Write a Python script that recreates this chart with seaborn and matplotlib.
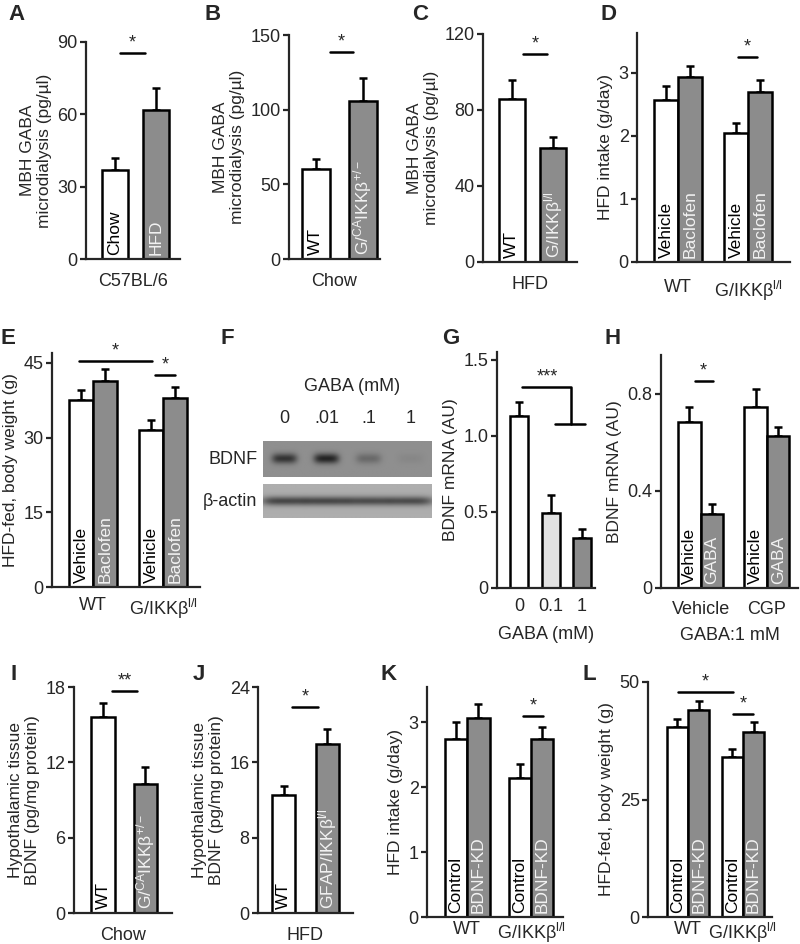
import numpy as np
import pandas as pd
import matplotlib
matplotlib.use("Agg")
import matplotlib.pyplot as plt
import seaborn as sns

# ---- data (means / SEM) ----
a_names = ["Chow", "HFD"]
a_mean = [37, 62]
a_sem = [5, 9]

b_names = ["WT", "G/$^{\\mathregular{CA}}$IKKβ$^{\\mathregular{+/-}}$"]
b_mean = [60, 106]
b_sem = [7, 15]

c_names = ["WT", "G/IKKβ$^{\\mathregular{l/l}}$"]
c_mean = [86, 60]
c_sem = [10, 6]

geno = ["WT", "G/IKKβ$^{\\mathregular{l/l}}$"]

d_treat = ["Vehicle", "Baclofen"]
d_mean = {"Vehicle": [2.57, 2.05], "Baclofen": [2.93, 2.70]}
d_sem = {"Vehicle": [0.22, 0.15], "Baclofen": [0.18, 0.18]}

e_treat = ["Vehicle", "Baclofen"]
e_mean = {"Vehicle": [37.6, 31.5], "Baclofen": [41.4, 38.0]}
e_sem = {"Vehicle": [2.0, 2.0], "Baclofen": [2.4, 2.2]}

f_lanes = ["0", ".01", ".1", "1"]
f_bdnf = [0.85, 1.0, 0.35, 0.07]
f_actin = [1.0, 1.0, 0.95, 0.95]

g_dose = ["0", "0.1", "1"]
g_mean = [1.13, 0.49, 0.33]
g_sem = [0.09, 0.12, 0.06]

h_groups = ["Vehicle", "CGP"]
h_treat = ["Vehicle", "GABA"]
h_mean = {"Vehicle": [0.685, 0.746], "GABA": [0.305, 0.627]}
h_sem = {"Vehicle": [0.06, 0.075], "GABA": [0.04, 0.038]}

i_names = ["WT", "G/$^{\\mathregular{CA}}$IKKβ$^{\\mathregular{+/-}}$"]
i_mean = [15.6, 10.3]
i_sem = [1.1, 1.3]

j_names = ["WT", "GFAP/IKKβ$^{\\mathregular{l/l}}$"]
j_mean = [12.5, 17.9]
j_sem = [1.0, 1.6]

k_treat = ["Control", "BDNF-KD"]
k_mean = {"Control": [2.74, 2.14], "BDNF-KD": [3.06, 2.74]}
k_sem = {"Control": [0.26, 0.21], "BDNF-KD": [0.22, 0.18]}

l_treat = ["Control", "BDNF-KD"]
l_mean = {"Control": [40.4, 34.0], "BDNF-KD": [44.0, 39.4]}
l_sem = {"Control": [1.7, 1.7], "BDNF-KD": [2.0, 2.1]}

# ---- style ----
sns.set_style("ticks")
plt.rcParams["font.family"] = ["Liberation Sans", "DejaVu Sans"]
plt.rcParams["mathtext.default"] = "regular"

WHITE, GRAY, LIGHT = "white", "#8c8c8c", "#e2e2e2"
FS_TICK = 13   # horizontal text
FS_LAB = 12.5  # rotated axis labels
FS_BAR = 12.5  # text inside bars
LW = 1.8
W, H = 800, 944

fig = plt.figure(figsize=(8, 9.44), dpi=100)


def box(x0, y0, x1, y1):
    return [x0 / W, 1 - y1 / H, (x1 - x0) / W, (y1 - y0) / H]


def finish(ax, xlim, ylim, yticks, yticklabels, ylabel, xlabel="", xpad=4, labelpad=10):
    ax.set_xlim(*xlim)
    ax.set_ylim(*ylim)
    ax.set_yticks(yticks, yticklabels)
    ax.set_ylabel(ylabel, fontsize=FS_LAB, labelpad=4, linespacing=1.15)
    ax.set_xlabel(xlabel, fontsize=FS_TICK, labelpad=labelpad)
    sns.despine(ax=ax)
    for s in ("left", "bottom"):
        ax.spines[s].set_linewidth(1.6)
    ax.tick_params(axis="y", length=4, width=1.6, labelsize=FS_TICK, pad=2)
    ax.tick_params(axis="x", length=0, labelsize=FS_TICK, pad=xpad)


def errbars(ax, xs, means, sems):
    ax.errorbar(xs, means, yerr=[np.zeros(len(sems)), sems], fmt="none",
                ecolor="black", elinewidth=LW, capsize=2.8, capthick=LW, zorder=1)


def in_bar(ax, x, text, color):
    ax.annotate(text, xy=(x, 0), xytext=(0, 3), textcoords="offset points",
                rotation=90, ha="center", va="bottom", fontsize=FS_BAR, color=color)


def sig(ax, x1, x2, y, stars="*"):
    ax.plot([x1, x2], [y, y], color="black", lw=LW, clip_on=False)
    ax.annotate(stars, xy=((x1 + x2) / 2, y), xytext=(0, 1), textcoords="offset points",
                ha="center", va="bottom", fontsize=FS_TICK)


def single_panel(rect, names, means, sems, colors, width, xlim, ylim, yticks, ylabel,
                 xlabel, labels=True, yticklabels=None, xpad=4, labelpad=10):
    ax = fig.add_axes(box(*rect))
    df = pd.DataFrame({"group": range(len(means)), "value": means})
    sns.barplot(data=df, x="group", y="value", color="white", saturation=1, width=width,
                edgecolor="black", linewidth=LW, errorbar=None, ax=ax, zorder=2)
    xs = []
    for p, c in zip(ax.patches, colors):
        p.set_facecolor(c)
        xs.append(p.get_x() + p.get_width() / 2)
    errbars(ax, xs, means, sems)
    if labels:
        for x, n, c in zip(xs, names, colors):
            in_bar(ax, x, n, "black" if c == WHITE else "#f2f2f2")
        ax.set_xticks([])
    else:
        ax.set_xticks(range(len(names)), names)
    finish(ax, xlim, ylim, yticks, yticklabels if yticklabels else [str(t) for t in yticks],
           ylabel, xlabel, xpad, labelpad)
    return ax


def grouped_panel(rect, groups, treats, means, sems, width, xlim, ylim, yticks, ylabel,
                  xlabel="", yticklabels=None, xpad=7, labelpad=9):
    ax = fig.add_axes(box(*rect))
    rows = [(gi, t, means[t][gi]) for t in treats for gi in range(len(groups))]
    df = pd.DataFrame(rows, columns=["group", "treat", "value"])
    sns.barplot(data=df, x="group", y="value", hue="treat", hue_order=treats,
                palette=[WHITE, GRAY], saturation=1, width=width, edgecolor="black",
                linewidth=LW, errorbar=None, legend=False, ax=ax, zorder=2)
    for cont, t, tc in zip(ax.containers, treats, ["black", "#f2f2f2"]):
        xs = [p.get_x() + p.get_width() / 2 for p in cont]
        errbars(ax, xs, means[t], sems[t])
        for x in xs:
            in_bar(ax, x, t, tc)
    ax.set_xticks(range(len(groups)), groups)
    finish(ax, xlim, ylim, yticks, yticklabels if yticklabels else [str(t) for t in yticks],
           ylabel, xlabel, xpad, labelpad)
    return ax


gaba_lab = "MBH GABA\nmicrodialysis (pg/µl)"
bdnf_lab = "Hypothalamic tissue\nBDNF (pg/mg protein)"

# A
ax = single_panel((86, 42, 180, 259), a_names, a_mean, a_sem, [WHITE, GRAY], 0.64,
                  (-0.7, 1.58), (0, 90), [0, 30, 60, 90], gaba_lab, "C57BL/6")
sig(ax, 0.12, 0.73, 85.4)
# B
ax = single_panel((289, 35, 380, 259), b_names, b_mean, b_sem, [WHITE, GRAY], 0.6,
                  (-0.57, 1.36), (0, 150), [0, 50, 100, 150], gaba_lab, "Chow")
sig(ax, 0.3, 0.79, 138.6)
# C
ax = single_panel((483, 34, 577, 262), c_names, c_mean, c_sem, [WHITE, GRAY], 0.63,
                  (-0.7, 1.58), (0, 120), [0, 40, 80, 120], gaba_lab, "HFD")
sig(ax, 0.27, 0.85, 109.5)
# D
ax = grouped_panel((637, 33, 790, 262), geno, d_treat, d_mean, d_sem, 0.69,
                   (-0.59, 1.6), (0, 3.63), [0, 1, 2, 3], "HFD intake (g/day)", xpad=12)
sig(ax, 0.86, 1.13, 3.25)
# E
ax = grouped_panel((52, 353, 200, 587), geno, e_treat, e_mean, e_sem, 0.69,
                   (-0.59, 1.53), (0, 47), [0, 15, 30, 45], "HFD-fed, body weight (g)")
sig(ax, -0.2, 0.84, 45.4)
sig(ax, 0.89, 1.17, 42.6)

# F (western blot)
ax = fig.add_axes(box(263, 441, 432, 518))


def strip(levels, bg, depth, width, ncol=170, nrow=36):
    xs = np.linspace(-0.5, 3.5, ncol)
    ys = np.linspace(-1, 1, nrow)
    img = np.full((nrow, ncol), bg)
    for i, lv in enumerate(levels):
        prof = np.exp(-((xs - i) / width) ** 4)[None, :] * np.exp(-(ys / 0.28) ** 2)[:, None]
        img = img - depth * lv * prof
    return img


ax.imshow(strip(f_bdnf, 0.56, 0.42, 0.3), cmap="gray", vmin=0, vmax=1, aspect="auto",
          extent=[-0.5, 3.5, 0.53, 1.0], interpolation="bilinear")
ax.imshow(strip(f_actin, 0.68, 0.4, 0.55), cmap="gray", vmin=0, vmax=1, aspect="auto",
          extent=[-0.5, 3.5, 0.0, 0.43], interpolation="bilinear")
ax.set_xlim(-0.5, 3.5)
ax.set_ylim(0, 1)
ax.axis("off")
for i, lane in enumerate(f_lanes):
    ax.annotate(lane, xy=(i, 1), xytext=(0, 16), textcoords="offset points",
                ha="center", va="center", fontsize=FS_TICK)
ax.annotate("GABA (mM)", xy=(1.6, 1), xytext=(0, 39), textcoords="offset points",
            ha="center", va="center", fontsize=FS_TICK)
ax.annotate("BDNF", xy=(-0.5, 0.765), xytext=(-4, 0), textcoords="offset points",
            ha="right", va="center", fontsize=FS_TICK)
ax.annotate("β-actin", xy=(-0.5, 0.215), xytext=(-4, 0), textcoords="offset points",
            ha="right", va="center", fontsize=FS_TICK)

# G
ax = single_panel((497, 352, 595, 588), g_dose, g_mean, g_sem, [WHITE, LIGHT, GRAY], 0.57,
                  (-0.7, 2.41), (0, 1.55), [0, 0.5, 1.0, 1.5], "BDNF mRNA (AU)", "GABA (mM)",
                  labels=False, yticklabels=["0", "0.5", "1.0", "1.5"], xpad=7, labelpad=8)
ax.plot([0.1, 1.65, 1.65], [1.32, 1.32, 1.08], color="black", lw=LW)
ax.plot([1.14, 2.1], [1.08, 1.08], color="black", lw=LW)
ax.annotate("***", xy=(0.9, 1.32), xytext=(0, 1), textcoords="offset points",
            ha="center", va="bottom", fontsize=FS_TICK)
# H
ax = grouped_panel((661, 355, 798, 588), h_groups, h_treat, h_mean, h_sem, 0.68,
                   (-0.6, 1.47), (0, 0.96), [0, 0.4, 0.8], "BDNF mRNA (AU)", "GABA:1 mM",
                   yticklabels=["0", "0.4", "0.8"], xpad=9, labelpad=7)
sig(ax, -0.09, 0.18, 0.854)

# I
ax = single_panel((74, 687, 172, 913), i_names, i_mean, i_sem, [WHITE, GRAY], 0.55,
                  (-0.69, 1.64), (0, 18), [0, 6, 12, 18], bdnf_lab, "Chow")
sig(ax, 0.21, 0.81, 17.7, "**")
# J
ax = single_panel((258, 687, 353, 913), j_names, j_mean, j_sem, [WHITE, GRAY], 0.53,
                  (-0.6, 1.6), (0, 24), [0, 8, 16, 24], bdnf_lab, "HFD")
sig(ax, 0.19, 0.79, 21.9)
# K
ax = grouped_panel((427, 687, 563, 917), geno, k_treat, k_mean, k_sem, 0.7,
                   (-0.63, 1.5), (0, 3.54), [0, 1, 2, 3], "HFD intake (g/day)", xpad=3)
sig(ax, 0.875, 1.19, 3.09)
# L
ax = grouped_panel((648, 682, 772, 917), geno, l_treat, l_mean, l_sem, 0.78,
                   (-0.73, 1.53), (0, 50), [0, 25, 50], "HFD-fed, body weight (g)", xpad=3)
sig(ax, -0.18, 0.82, 47.9)
sig(ax, 0.82, 1.18, 43.2)

# panel letters
letters = [("A", 8, 14), ("B", 205, 14), ("C", 412, 14), ("D", 600, 14),
           ("E", 0, 339), ("F", 220, 339), ("G", 442, 339), ("H", 605, 339),
           ("I", 10, 674), ("J", 193, 674), ("K", 380, 674), ("L", 582, 675)]
for s, x, y in letters:
    fig.text(x / W, 1 - y / H, s, fontsize=16, fontweight="bold", ha="left", va="center")

fig.savefig("out.png", dpi=100)
